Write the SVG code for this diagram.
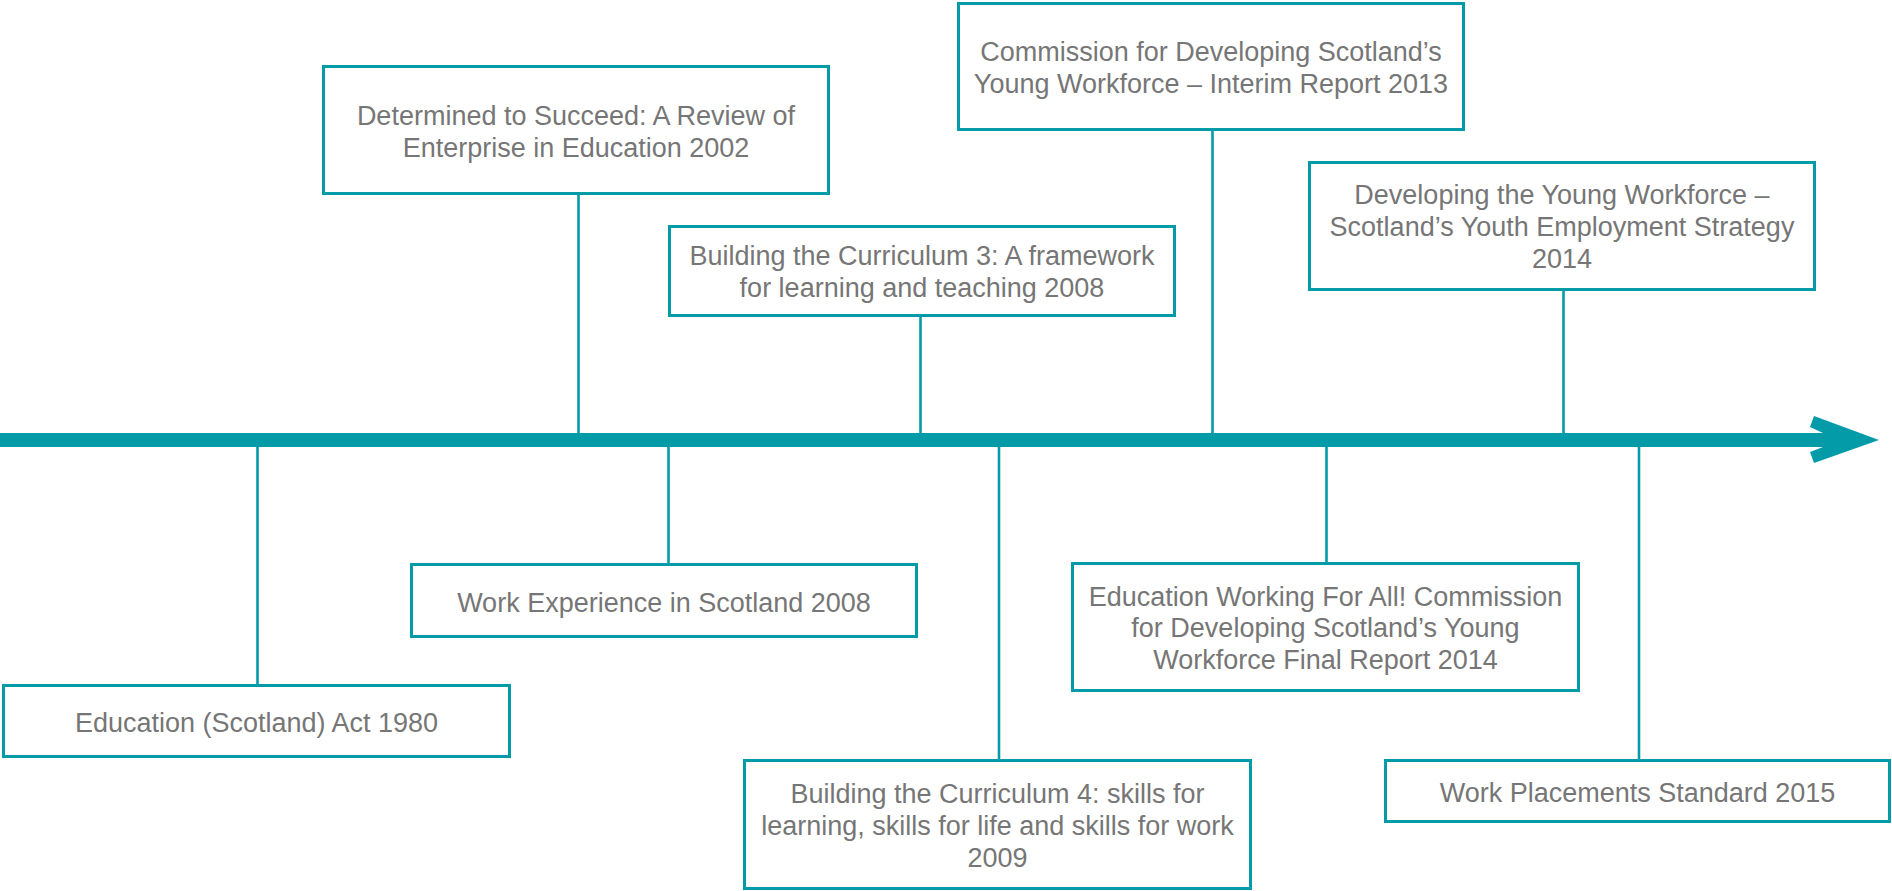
<svg xmlns="http://www.w3.org/2000/svg" width="1892" height="891" viewBox="0 0 1892 891">
<style>
.box{fill:#ffffff;stroke:#039ba8;stroke-width:3}
.con line{stroke:#039ba8;stroke-width:2.6}
text{font-family:"Liberation Sans",Arial,sans-serif;font-size:27px;fill:#767676;text-anchor:middle}
</style>
<rect width="1892" height="891" fill="#ffffff"/>
<g id="timeline">
<rect x="0" y="433" width="1824" height="14" fill="#039ba8"/>
<polygon points="1823,433 1810,427 1814,416 1879,440 1814,463 1810,452 1823,447" fill="#039ba8"/>
</g>
<g class="con" id="connectors">
<line x1="257.5" y1="447" x2="257.5" y2="684"/>
<line x1="578.5" y1="195" x2="578.5" y2="433"/>
<line x1="668.5" y1="447" x2="668.5" y2="563"/>
<line x1="920.5" y1="317" x2="920.5" y2="433"/>
<line x1="999" y1="447" x2="999" y2="759"/>
<line x1="1212.5" y1="131" x2="1212.5" y2="433"/>
<line x1="1326.5" y1="447" x2="1326.5" y2="562"/>
<line x1="1563.5" y1="291" x2="1563.5" y2="433"/>
<line x1="1639" y1="447" x2="1639" y2="759"/>
</g>
<g id="n1980">
<rect class="box" x="3.5" y="685.5" width="506" height="71"/>
<text x="256.5" y="732">Education (Scotland) Act 1980</text>
</g>
<g id="n2002">
<rect class="box" x="323.5" y="66.5" width="505" height="127"/>
<text x="576" y="125">Determined to Succeed: A Review of</text>
<text x="576" y="157">Enterprise in Education 2002</text>
</g>
<g id="nwe2008">
<rect class="box" x="411.5" y="564.5" width="505" height="72"/>
<text x="664" y="612">Work Experience in Scotland 2008</text>
</g>
<g id="nbtc3">
<rect class="box" x="669.5" y="226.5" width="505" height="89"/>
<text x="922" y="265">Building the Curriculum 3: A framework</text>
<text x="922" y="297">for learning and teaching 2008</text>
</g>
<g id="nbtc4">
<rect class="box" x="744.5" y="760.5" width="506" height="128"/>
<text x="997.5" y="803">Building the Curriculum 4: skills for</text>
<text x="997.5" y="835">learning, skills for life and skills for work</text>
<text x="997.5" y="867">2009</text>
</g>
<g id="n2013">
<rect class="box" x="958.5" y="3.5" width="505" height="126"/>
<text x="1211" y="61">Commission for Developing Scotland’s</text>
<text x="1211" y="93">Young Workforce – Interim Report 2013</text>
</g>
<g id="nfinal2014">
<rect class="box" x="1072.5" y="563.5" width="506" height="127"/>
<text x="1325.5" y="606">Education Working For All! Commission</text>
<text x="1325.5" y="637">for Developing Scotland’s Young</text>
<text x="1325.5" y="669">Workforce Final Report 2014</text>
</g>
<g id="nstrategy2014">
<rect class="box" x="1309.5" y="162.5" width="505" height="127"/>
<text x="1562" y="204">Developing the Young Workforce –</text>
<text x="1562" y="236">Scotland’s Youth Employment Strategy</text>
<text x="1562" y="268">2014</text>
</g>
<g id="n2015">
<rect class="box" x="1385.5" y="760.5" width="504" height="61"/>
<text x="1637.5" y="802">Work Placements Standard 2015</text>
</g>
</svg>
